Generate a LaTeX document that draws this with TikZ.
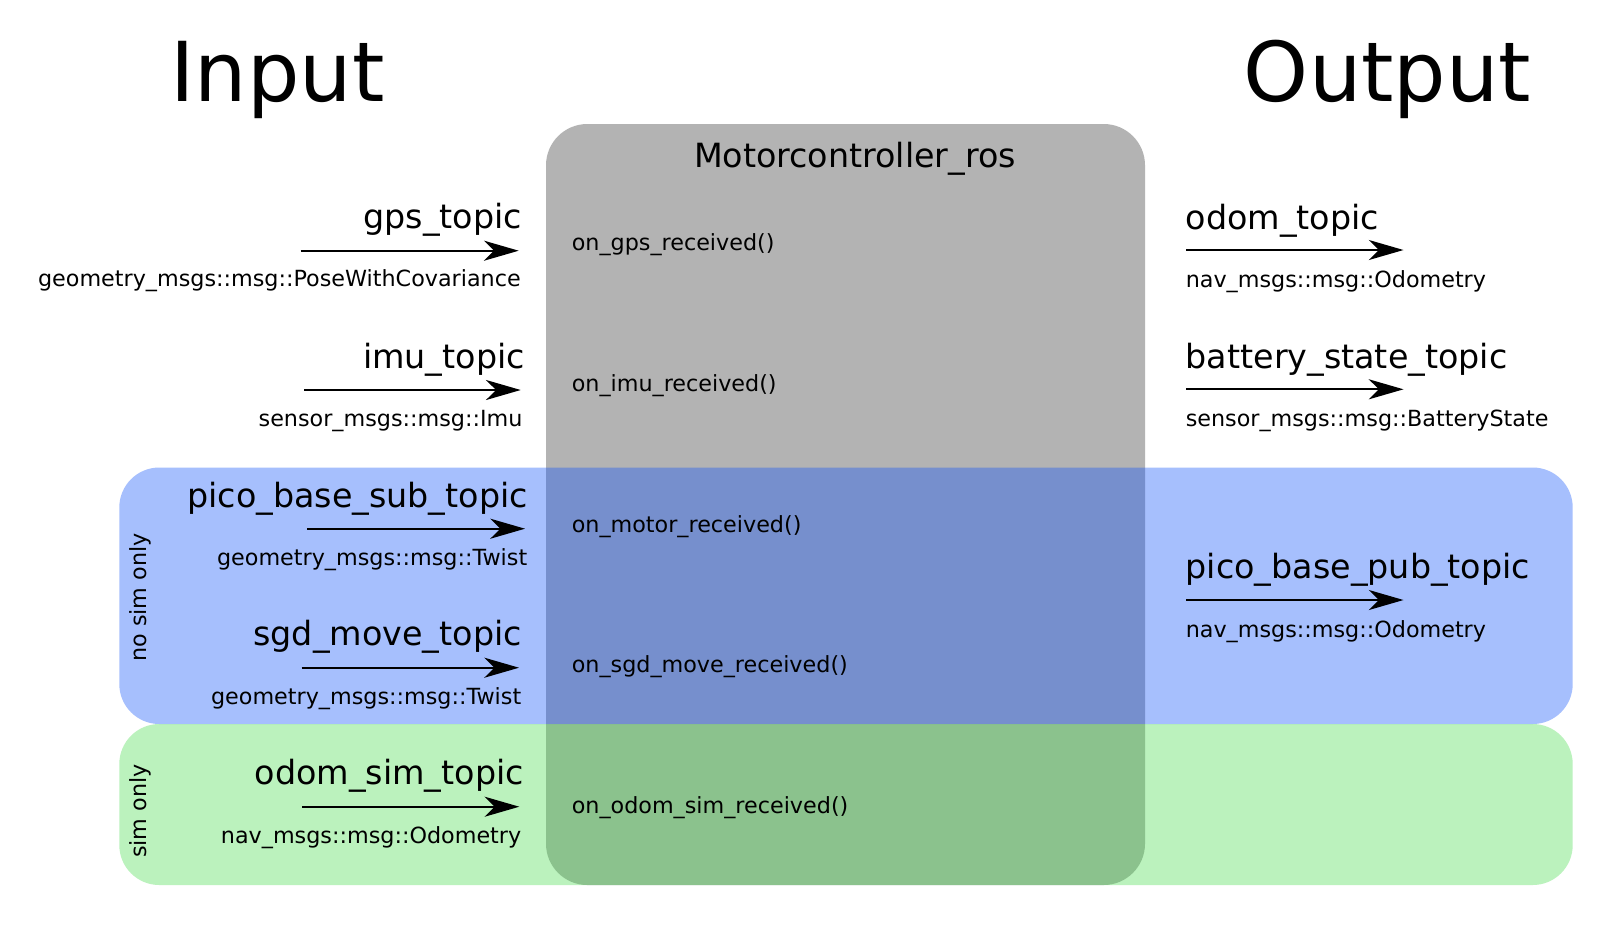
\documentclass[tikz,border=0pt]{standalone}
\usepackage{fontspec}
\setmainfont{DejaVu Sans}
\usetikzlibrary{arrows.meta}
\definecolor{boxgray}{HTML}{B3B3B3}
\definecolor{blueC}{RGB}{15,82,250}
\definecolor{greenC}{RGB}{71,220,77}
\begin{document}
\begin{tikzpicture}[x=0.75pt,y=-0.75pt,
  topic/.style={font=\fontsize{25}{28}\selectfont, inner sep=0pt},
  small/.style={font=\fontsize{16.7}{19}\selectfont, inner sep=0pt},
  big/.style={font=\fontsize{62}{70}\selectfont, inner sep=0pt},
  arr/.style={line width=1.6pt, -{Stealth[length=26pt,width=15pt,inset=7.5pt]}},
  grayblock/.style={fill=boxgray, rounded corners=31pt},
  blueblock/.style={fill=blueC, fill opacity=0.37, rounded corners=30pt},
  greenblock/.style={fill=greenC, fill opacity=0.37, rounded corners=30pt}]
\useasboundingbox (0,0) rectangle (1612,926);
\fill[white] (0,0) rectangle (1612,926);

% blocks
\path[grayblock] (546,124) rectangle (1145,885);
\path[blueblock] (119.3,467.5) rectangle (1572.7,724);
\path[greenblock] (119.3,724) rectangle (1572.7,885);

% headings
\node[big, anchor=base] (input) at (277.4,101) {Input};
\node[big, anchor=base] (output) at (1387.5,101) {Output};
\node[topic, anchor=base] (title) at (855,167.7) {Motorcontroller\_ros};

% side labels
\node[small, rotate=90, anchor=base] (nosim) at (146.5,597.5) {no sim only};
\node[small, rotate=90, anchor=base] (simonly) at (146.5,811) {sim only};

% left inputs
\node[topic, anchor=base east] (gpsT) at (522.3,228.7) {gps\_topic};
\node[small, anchor=base east] (gpsM) at (521,286.7) {geometry\_msgs::msg::PoseWithCovariance};
\coordinate (gpsS) at (300.7,250.7);
\coordinate (gpsE) at (518.7,250.7);
\draw[arr] (gpsS) -- (gpsE);

\node[topic, anchor=base east] (imuT) at (525,368) {imu\_topic};
\node[small, anchor=base east] (imuM) at (522.7,426) {sensor\_msgs::msg::Imu};
\coordinate (imuS) at (304,390);
\coordinate (imuE) at (520.7,390);
\draw[arr] (imuS) -- (imuE);

\node[topic, anchor=base east] (picoT) at (528,507.7) {pico\_base\_sub\_topic};
\node[small, anchor=base east] (picoM) at (527.5,565) {geometry\_msgs::msg::Twist};
\coordinate (picoS) at (307.3,528.7);
\coordinate (picoE) at (525,528.7);
\draw[arr] (picoS) -- (picoE);

\node[topic, anchor=base east] (sgdT) at (522,645.7) {sgd\_move\_topic};
\node[small, anchor=base east] (sgdM) at (521.5,704) {geometry\_msgs::msg::Twist};
\coordinate (sgdS) at (301.7,667.7);
\coordinate (sgdE) at (519,667.7);
\draw[arr] (sgdS) -- (sgdE);

\node[topic, anchor=base east] (simT) at (524,784.7) {odom\_sim\_topic};
\node[small, anchor=base east] (simM) at (521.5,843.3) {nav\_msgs::msg::Odometry};
\coordinate (simS) at (302.3,806.7);
\coordinate (simE) at (519.3,806.7);
\draw[arr] (simS) -- (simE);

% callbacks
\node[small, anchor=base west] (cbgps) at (571.5,250.7) {on\_gps\_received()};
\node[small, anchor=base west] (cbimu) at (571.5,391) {on\_imu\_received()};
\node[small, anchor=base west] (cbmotor) at (571.5,532.8) {on\_motor\_received()};
\node[small, anchor=base west] (cbsgd) at (571.5,672.8) {on\_sgd\_move\_received()};
\node[small, anchor=base west] (cbsim) at (571.5,813.9) {on\_odom\_sim\_received()};

% right outputs
\node[topic, anchor=base west] (odomT) at (1185.5,229.3) {odom\_topic};
\node[small, anchor=base west] (odomM) at (1185.5,287.3) {nav\_msgs::msg::Odometry};
\coordinate (odomS) at (1186,250);
\coordinate (odomE) at (1403.5,250);
\draw[arr] (odomS) -- (odomE);

\node[topic, anchor=base west] (batT) at (1185.5,368.3) {battery\_state\_topic};
\node[small, anchor=base west] (batM) at (1185.5,426.7) {sensor\_msgs::msg::BatteryState};
\coordinate (batS) at (1186,389.3);
\coordinate (batE) at (1403.5,389.3);
\draw[arr] (batS) -- (batE);

\node[topic, anchor=base west] (pubT) at (1185.5,578.3) {pico\_base\_pub\_topic};
\node[small, anchor=base west] (pubM) at (1185.5,637) {nav\_msgs::msg::Odometry};
\coordinate (pubS) at (1186,600);
\coordinate (pubE) at (1403.5,600);
\draw[arr] (pubS) -- (pubE);
\end{tikzpicture}
\end{document}
